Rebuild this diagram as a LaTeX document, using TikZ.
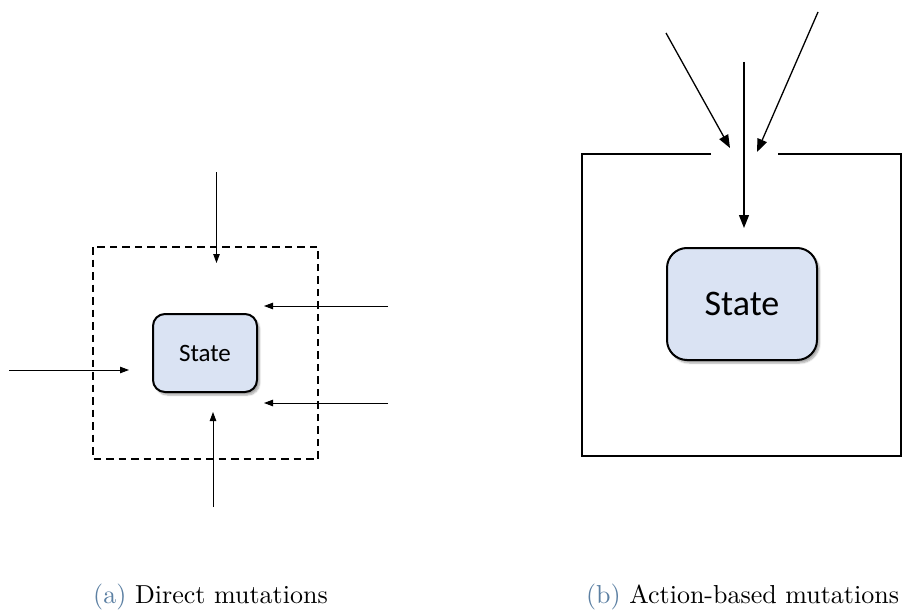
\documentclass[tikz,border=0pt]{standalone}
\usepackage{fontspec}
\newfontfamily\statefont{Carlito}
\usetikzlibrary{arrows.meta,shadows.blur}
\definecolor{statefill}{RGB}{218,227,243}
\definecolor{capblue}{RGB}{92,128,163}
\tikzset{
  statebox/.style={draw=black, fill=statefill, rounded corners=#1,
    line width=2pt, inner sep=0pt,
    blur shadow={shadow xshift=2.5pt, shadow yshift=-3pt, shadow blur steps=6, shadow opacity=35}},
  smallarrow/.style={line width=0.9pt, -{Triangle[length=9pt,width=6.5pt]}},
  bigarrow/.style={line width=1.3pt, -{Triangle[length=13pt,width=10pt]}},
  caption/.style={inner sep=0pt, anchor=base}
}
\begin{document}
\begin{tikzpicture}[x=1pt,y=-1pt]
\useasboundingbox (0,0) rectangle (907,615);

% ---- (a) direct mutations ----
\draw[line width=2pt, dash pattern=on 7.5pt off 5pt] (93,247) rectangle (318,459);
\node[statebox=12pt, minimum width=104pt, minimum height=78pt,
      font=\statefont\fontsize{25}{30}\selectfont] (sa) at (205,353) {State};

\coordinate (t0) at (216.5,172); \coordinate (t1) at (216.5,263);
\coordinate (l0) at (9,370);     \coordinate (l1) at (129,370);
\coordinate (r0) at (388,306);   \coordinate (r1) at (264,306);
\coordinate (q0) at (388,403);   \coordinate (q1) at (264,403);
\coordinate (b0) at (213,507);   \coordinate (b1) at (213,412);
\draw[smallarrow] (t0) -- (t1);
\draw[smallarrow] (l0) -- (l1);
\draw[smallarrow] (r0) -- (r1);
\draw[smallarrow] (q0) -- (q1);
\draw[smallarrow] (b0) -- (b1);

% ---- (b) action-based mutations ----
\draw[line width=2.8pt, line join=miter]
  (711,154) -- (582,154) -- (582,456) -- (901,456) -- (901,154) -- (778,154);
\node[statebox=20pt, minimum width=150pt, minimum height=112pt,
      font=\statefont\fontsize{36}{42}\selectfont] (sb) at (742,304) {State};

\coordinate (d0) at (666,33);  \coordinate (d1) at (730,148);
\coordinate (e0) at (818,12);  \coordinate (e1) at (757,152);
\coordinate (v0) at (744,62);  \coordinate (v1) at (744,228);
\draw[bigarrow] (d0) -- (d1);
\draw[bigarrow] (e0) -- (e1);
\draw[bigarrow] (v0) -- (v1);

% ---- captions (10pt text, enlarged) ----
\node[caption] (ca) at (210.5,603) {\scalebox{2.6}{\textcolor{capblue}{(a)} Direct mutations}};
\node[caption] (cb) at (742.5,603) {\scalebox{2.6}{\textcolor{capblue}{(b)} Action-based mutations}};
\end{tikzpicture}
\end{document}
